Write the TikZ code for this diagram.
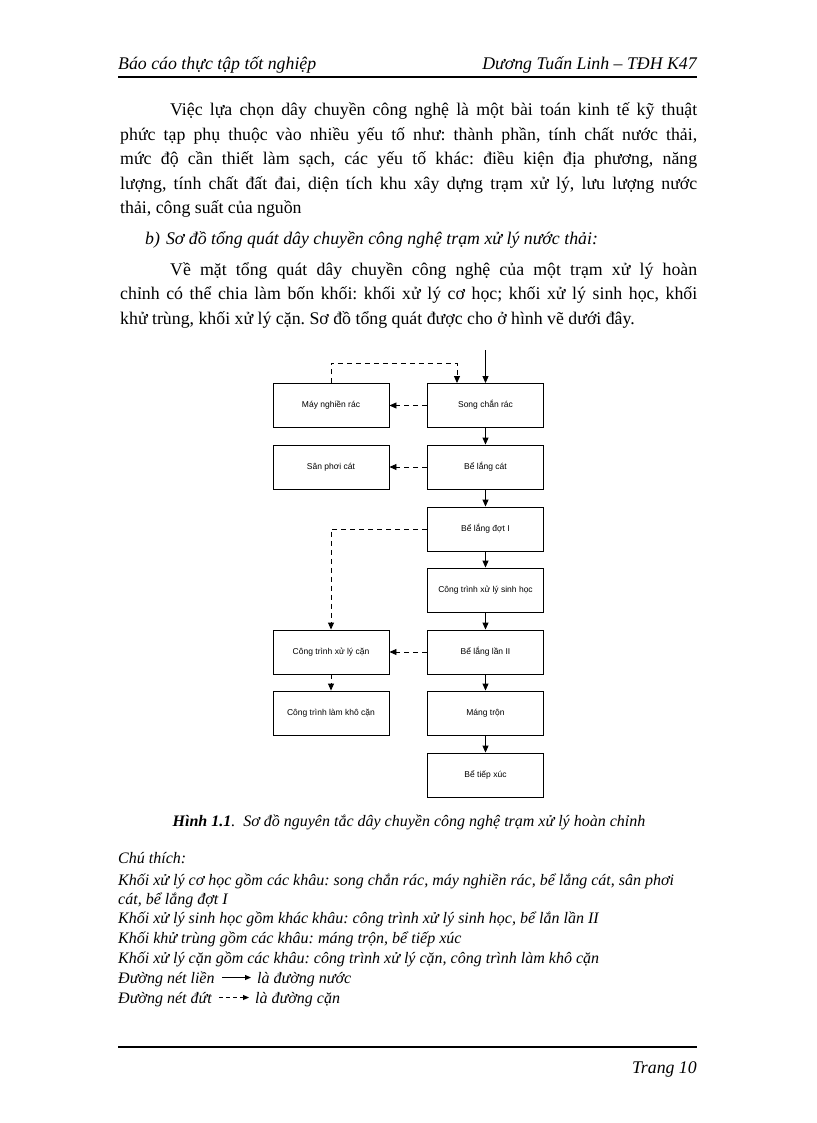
\documentclass[tikz,border=0pt]{standalone}
\usepackage{fontspec}
\setmainfont{Liberation Serif}
\newfontfamily\arialf{Liberation Sans}
\usetikzlibrary{arrows.meta}
\frenchspacing
\begin{document}
\begin{tikzpicture}[x=1pt,y=-1pt,
  box/.style={draw,line width=0.9pt,minimum width=116pt,minimum height=44pt,inner sep=0pt,text height=6.5pt,text depth=2pt,font=\arialf\fontsize{8.5}{10}\selectfont},
  flow/.style={line width=0.9pt,-{Triangle[width=6pt,length=7pt]}},
  sludge/.style={line width=0.9pt,dash pattern=on 5pt off 4pt,-{Triangle[width=6pt,length=7pt]}},
  body/.style={anchor=base west,inner sep=0pt,font=\fontsize{17.8}{24.5}\selectfont},
  note/.style={anchor=base west,inner sep=0pt,font=\fontsize{16}{20}\selectfont\itshape}]
\useasboundingbox[fill=white] (0,0) rectangle (816,1123);

% header
\node[anchor=base west,inner sep=0pt,font=\fontsize{17.8}{20}\selectfont\itshape] (hl) at (118,70) {Báo cáo thực tập tốt nghiệp};
\node[anchor=base east,inner sep=0pt,font=\fontsize{17.8}{20}\selectfont\itshape] (hr) at (697,70) {Dương Tuấn Linh – TĐH K47};
\draw[line width=2.2pt] (118,77) -- (697,77);

% paragraph 1
\node[body] (p1) at (170,116) {\makebox[527pt][s]{Việc lựa chọn dây chuyền công nghệ là một bài toán kinh tế kỹ thuật}};
\node[body] (p2) at (120,140.5) {\makebox[577pt][s]{phức tạp phụ thuộc vào nhiều yếu tố như: thành phần, tính chất nước thải,}};
\node[body] (p3) at (120,165) {\makebox[577pt][s]{mức độ cần thiết làm sạch, các yếu tố khác: điều kiện địa phương, năng}};
\node[body] (p4) at (120,189.5) {\makebox[577pt][s]{lượng, tính chất đất đai, diện tích khu xây dựng trạm xử lý, lưu lượng nước}};
\node[body] (p5) at (120,214) {thải, công suất của nguồn};

\node[body,font=\fontsize{17.8}{24.5}\selectfont\itshape] (b) at (145,244) {b)\hspace{6pt}Sơ đồ tổng quát dây chuyền công nghệ trạm xử lý nước thải:};

\node[body] (q1) at (170,275) {\makebox[527pt][s]{Về mặt tổng quát dây chuyền công nghệ của một trạm xử lý hoàn}};
\node[body] (q2) at (120,299.5) {\makebox[577pt][s]{chỉnh có thể chia làm bốn khối: khối xử lý cơ học; khối xử lý sinh học, khối}};
\node[body] (q3) at (120,324) {khử trùng, khối xử lý cặn. Sơ đồ tổng quát được cho ở hình vẽ dưới đây.};

% diagram
\node[box] (mnr) at (331,405.5) {Máy nghiền rác};
\node[box] (scr) at (485.5,405.5) {Song chắn rác};
\node[box] (spc) at (331,467) {Sân phơi cát};
\node[box] (blc) at (485.5,467) {Bể lắng cát};
\node[box] (bld) at (485.5,529) {Bể lắng đợt I};
\node[box] (ctsh) at (485.5,590) {Công trình xử lý sinh học};
\node[box] (ctxlc) at (331,652) {Công trình xử lý cặn};
\node[box] (bll) at (485.5,652) {Bể lắng lần II};
\node[box] (ctlkc) at (331,713) {Công trình làm khô cặn};
\node[box] (mt) at (485.5,713) {Máng trộn};
\node[box] (btx) at (485.5,775) {Bể tiếp xúc};

\coordinate (in) at (485.5,350);
\coordinate (d1) at (457,363);
\draw[flow] (in) -- (scr.north);
\draw[flow] (scr) -- (blc);
\draw[flow] (blc) -- (bld);
\draw[flow] (bld) -- (ctsh);
\draw[flow] (ctsh) -- (bll);
\draw[flow] (bll) -- (mt);
\draw[flow] (mt) -- (btx);

\draw[sludge] (mnr.north) |- (d1) -- (d1 |- scr.north);
\draw[sludge] (scr) -- (mnr);
\draw[sludge] (blc) -- (spc);
\draw[sludge] (bll) -- (ctxlc);
\draw[sludge] (bld.west) -| (ctxlc.north);
\draw[sludge] (ctxlc) -- (ctlkc);

% caption
\node[anchor=base,inner sep=0pt,font=\fontsize{16}{20}\selectfont] (cap) at (409,826) {\textbf{\textit{Hình 1.1}}\textit{.\ \ Sơ đồ nguyên tắc dây chuyền công nghệ trạm xử lý hoàn chỉnh}};

% notes
\node[note] (n1) at (118,863) {Chú thích:};
\node[note] (n2) at (118,885) {Khối xử lý cơ học gồm các khâu: song chắn rác, máy nghiền rác, bể lắng cát, sân phơi};
\node[note] (n3) at (118,904) {cát, bể lắng đợt I};
\node[note] (n4) at (118,923) {Khối xử lý sinh học gồm khác khâu: công trình xử lý sinh học, bể lắn lần II};
\node[note] (n5) at (118,943) {Khối khử trùng gồm các khâu: máng trộn, bể tiếp xúc};
\node[note] (n6) at (118,963) {Khối xử lý cặn gồm các khâu: công trình xử lý cặn, công trình làm khô cặn};
\node[note] (n7) at (118,983) {Đường nét liền};
\node[note] (n7b) at (257,983) {là đường nước};
\node[note] (n8) at (118,1003) {Đường nét đứt};
\node[note] (n8b) at (255,1003) {là đường cặn};
\coordinate (l1a) at ([xshift=7pt]n7.east |- 0,977.5);
\coordinate (l1b) at ([xshift=-6pt]n7b.west |- 0,977.5);
\coordinate (l2a) at ([xshift=7pt]n8.east |- 0,997.5);
\coordinate (l2b) at ([xshift=-6pt]n8b.west |- 0,997.5);
\draw[line width=1pt,-{Triangle[width=5pt,length=6pt]}] (l1a) -- (l1b);
\draw[line width=1pt,dash pattern=on 4pt off 3pt,-{Triangle[width=5pt,length=6pt]}] (l2a) -- (l2b);

% footer
\draw[line width=2.4pt] (118,1047) -- (697,1047);
\node[anchor=base east,inner sep=0pt,font=\fontsize{17.8}{20}\selectfont\itshape] (pg) at (697,1073) {Trang 10};
\end{tikzpicture}
\end{document}
